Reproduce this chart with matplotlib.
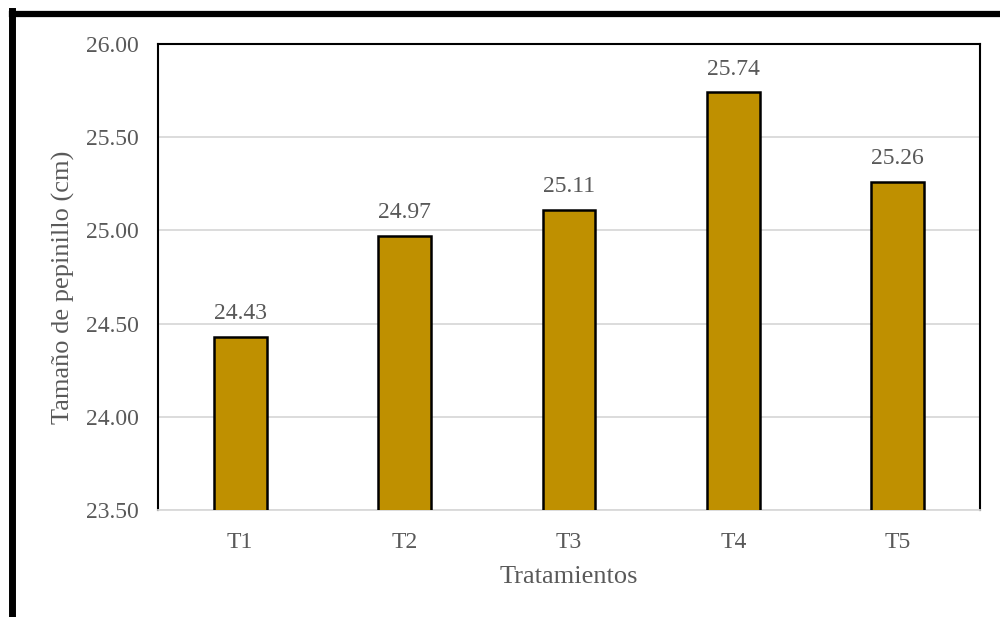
import matplotlib
matplotlib.use("Agg")
import matplotlib.pyplot as plt
from matplotlib.lines import Line2D

categories = ["T1", "T2", "T3", "T4", "T5"]
values = [24.43, 24.97, 25.11, 25.74, 25.26]
y_ticks = [23.50, 24.00, 24.50, 25.00, 25.50, 26.00]

plt.rcParams["font.family"] = ["Liberation Serif", "DejaVu Serif"]
text_color = "#595959"

fig = plt.figure(figsize=(10, 6.17), dpi=100)
ax = fig.add_axes([0.158, 1 - 510 / 617, 0.822, (510 - 44) / 617])

x = range(len(categories))
ax.bar(x, values, width=0.32, color="#BF9000", edgecolor="black", linewidth=1.8, zorder=3)

for xi, v in zip(x, values):
    ax.annotate(f"{v:.2f}", (xi, v), xytext=(0, 9), textcoords="offset points",
                ha="center", va="bottom", fontsize=17, color=text_color)

ax.set_xlim(-0.5, len(categories) - 0.5)
ax.set_ylim(y_ticks[0], y_ticks[-1])
ax.set_yticks(y_ticks)
ax.set_yticklabels([f"{t:.2f}" for t in y_ticks])
ax.set_xticks(list(x))
ax.set_xticklabels(categories)
ax.tick_params(axis="both", length=0, labelsize=17, labelcolor=text_color)
ax.tick_params(axis="y", pad=14)
ax.tick_params(axis="x", pad=16)

ax.grid(axis="y", color="#d9d9d9", linewidth=1.3, zorder=0)
ax.set_axisbelow(True)
for side in ("left", "top", "right"):
    ax.spines[side].set_color("black")
    ax.spines[side].set_linewidth(1.5)
ax.spines["bottom"].set_color("#d9d9d9")
ax.spines["bottom"].set_linewidth(1.3)

ax.set_ylabel("Tamaño de pepinillo (cm)", fontsize=19, color=text_color)
ax.yaxis.set_label_coords(-0.101, 0.478)
ax.set_xlabel("Tratamientos", fontsize=19, color=text_color, labelpad=9)

# thick frame along the top and left edges of the figure
fig.add_artist(Line2D([11.5 / 1000, 11.5 / 1000], [0, 1 - 11 / 617], color="black",
                      linewidth=5, transform=fig.transFigure, solid_capstyle="projecting"))
fig.add_artist(Line2D([11.5 / 1000, 1], [1 - 14 / 617, 1 - 14 / 617], color="black",
                      linewidth=4.5, transform=fig.transFigure, solid_capstyle="projecting"))

fig.savefig("out.png", dpi=100, facecolor="white")
